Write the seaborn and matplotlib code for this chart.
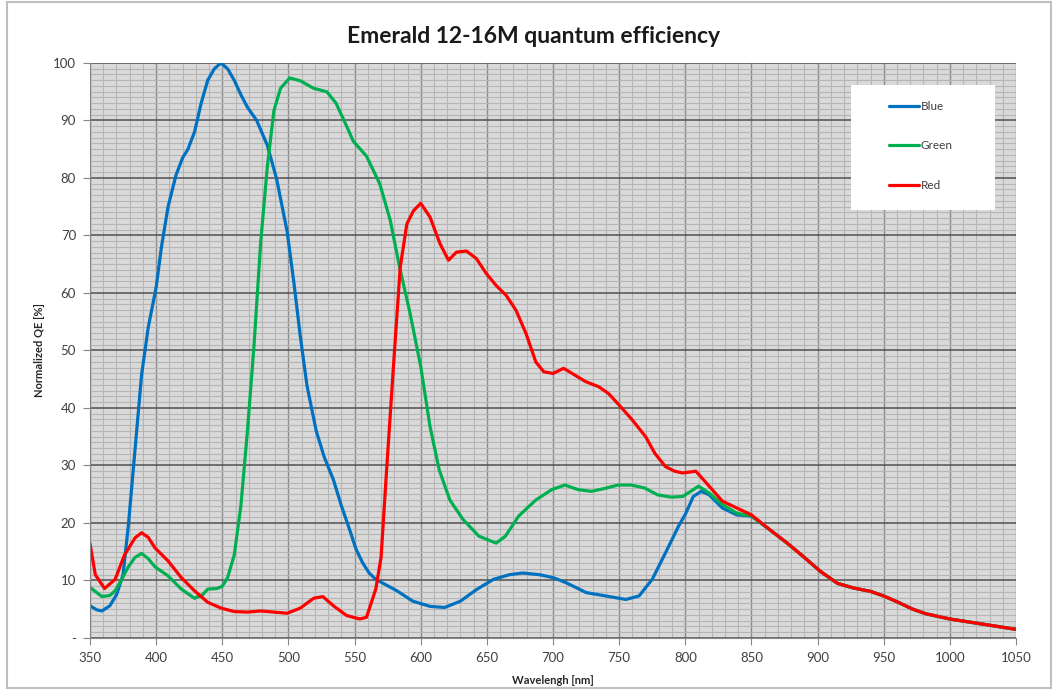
import pandas as pd
import matplotlib
matplotlib.use("Agg")
import matplotlib.pyplot as plt
from matplotlib.patches import Rectangle
from matplotlib.ticker import MultipleLocator, FuncFormatter
import seaborn as sns

# values (wavelength nm, normalized QE %)
blue_wl = [350, 355, 359, 365, 370, 375, 379, 384, 389, 394, 400, 404, 409, 415, 420,
           424, 429, 434, 439, 444, 449, 454, 459, 464, 469, 476, 484, 491, 499, 504,
           509, 514, 521, 527, 534, 540, 546, 551, 556, 561, 566, 574, 582, 594, 607,
           618, 630, 642, 655, 667, 677, 690, 700, 710, 725, 740, 755, 765, 775, 785,
           795, 800, 806, 812, 818, 828, 839, 850, 864, 877, 889, 902, 915, 927, 940,
           950, 960, 972, 982, 1000, 1025, 1050]
blue_qe = [5.6, 4.9, 4.7, 5.6, 7.5, 11, 19.6, 32.7, 45.8, 54, 61, 68, 75, 80.5, 83.5,
           85, 88, 93, 97, 99, 100, 99, 97, 94.5, 92.3, 90, 85.7, 79.9, 70.7, 62,
           52.4, 43.9, 36, 31.5, 27.5, 23, 19, 15.5, 13.1, 11.3, 10.2, 9.2, 8.2, 6.4, 5.5,
           5.3, 6.4, 8.4, 10.2, 11, 11.3, 11, 10.5, 9.6, 7.9, 7.3, 6.7, 7.3, 10.2, 14.8,
           19.5, 21.5, 24.6, 25.5, 24.9, 22.6, 21.4, 21.2, 18.8, 16.5, 14.2, 11.6, 9.5, 8.7, 8.1,
           7.3, 6.3, 5.0, 4.2, 3.3, 2.4, 1.5]

green_wl = [350, 359, 365, 369, 374, 379, 384, 389, 394, 399, 409, 419, 429, 435, 439,
            446, 450, 454, 459, 464, 469, 474, 479, 484, 489, 494, 501, 509, 519, 529,
            536, 544, 549, 559, 569, 577, 584, 592, 600, 607, 614, 622, 632, 644, 657,
            664, 674, 687, 699, 709, 719, 729, 739, 749, 759, 769, 779, 789, 798, 810,
            818, 828, 839, 850, 864, 877, 889, 902, 915, 927, 940, 950, 960, 972, 982,
            1000, 1025, 1050]
green_qe = [8.8, 7.2, 7.4, 8.2, 10.2, 12.4, 14, 14.7, 13.8, 12.4, 10.8, 8.5, 6.9, 7.5, 8.5,
            8.6, 9, 10.5, 14.4, 22.9, 36, 51, 68.8, 81.9, 91.7, 95.6, 97.4, 96.9, 95.6, 95,
            93, 89, 86.4, 83.8, 79, 72.6, 64.5, 56.4, 47.2, 36.8, 29.2, 24, 20.6, 17.7, 16.5,
            17.7, 21.2, 24, 25.8, 26.6, 25.8, 25.5, 26, 26.6, 26.6, 26.1, 24.9, 24.5, 24.6, 26.4,
            25.2, 23.2, 21.7, 21.2, 18.8, 16.5, 14.2, 11.6, 9.5, 8.7, 8.1, 7.3, 6.3, 5.0, 4.2,
            3.3, 2.4, 1.5]

red_wl = [350, 354, 361, 369, 376, 384, 389, 394, 399, 409, 419, 429, 439, 449, 459,
          469, 479, 489, 499, 509, 519, 526, 534, 544, 554, 559, 566, 570, 574, 579.5,
          584.5, 589.5, 594.5, 600, 607, 614.5, 621, 627, 634.5, 642, 649.5, 657, 664.5, 672, 679.5,
          687, 693, 700, 708, 714.5, 724.5, 734.5, 742, 750, 760, 770, 777, 785, 792, 798,
          808, 818, 828, 839, 850, 864, 877, 889, 902, 915, 927, 940, 950, 960, 972,
          982, 1000, 1025, 1050]
red_qe = [16.4, 11, 8.6, 10.2, 14.4, 17.4, 18.3, 17.5, 15.7, 13.4, 10.5, 8.2, 6.2, 5.2, 4.6,
          4.5, 4.7, 4.5, 4.3, 5.2, 6.9, 7.2, 5.6, 3.9, 3.3, 3.6, 8.5, 14, 28.5, 47.7,
          64.5, 72, 74.3, 75.6, 73.2, 68.6, 65.7, 67.1, 67.3, 66, 63.4, 61.3, 59.6, 57, 53,
          48, 46.3, 46, 46.9, 46, 44.6, 43.7, 42.5, 40.5, 37.9, 35, 32.1, 29.8, 29, 28.7,
          29, 26.4, 23.8, 22.6, 21.4, 18.8, 16.5, 14.2, 11.6, 9.5, 8.7, 8.1, 7.3, 6.3, 5.0,
          4.2, 3.3, 2.4, 1.5]

channels = ["Blue", "Green", "Red"]
colors = ["#0070C0", "#00B050", "#FF0000"]

df = pd.concat([
    pd.DataFrame({"Wavelength": blue_wl, "QE": blue_qe, "Channel": "Blue"}),
    pd.DataFrame({"Wavelength": green_wl, "QE": green_qe, "Channel": "Green"}),
    pd.DataFrame({"Wavelength": red_wl, "QE": red_qe, "Channel": "Red"}),
])

sns.set_style("ticks")
plt.rcParams["font.family"] = ["Lato", "DejaVu Sans"]

fig = plt.figure(figsize=(10.54, 6.9), dpi=100)
ax = fig.add_axes([0.0854, 0.0754, 0.8786, 0.8333])
ax.set_facecolor("#D9D9D9")

sns.lineplot(data=df, x="Wavelength", y="QE", hue="Channel", hue_order=channels,
             palette=colors, linewidth=2.3, errorbar=None, ax=ax, legend=True)

ax.set_xlim(350, 1050)
ax.set_ylim(0, 100)
ax.xaxis.set_major_locator(MultipleLocator(50))
ax.xaxis.set_minor_locator(MultipleLocator(10))
ax.yaxis.set_major_locator(MultipleLocator(10))
ax.yaxis.set_minor_locator(MultipleLocator(1))
ax.yaxis.set_major_formatter(FuncFormatter(lambda v, p: "-" if v == 0 else f"{v:.0f}"))

ax.grid(which="minor", color="#B5B5B5", linewidth=0.8)
ax.grid(which="major", axis="x", color="#8C8C8C", linewidth=1.0)
ax.grid(which="major", axis="y", color="#505050", linewidth=1.1)
ax.set_axisbelow(True)

for side in ["top", "right"]:
    ax.spines[side].set_visible(False)
for side in ["left", "bottom"]:
    ax.spines[side].set_color("#868686")
ax.tick_params(which="major", length=5, color="#868686", labelsize=9.5, labelcolor="#404040", pad=5)
ax.tick_params(which="minor", length=0)

ax.set_xlabel("Wavelengh [nm]", fontsize=8, fontweight="bold", labelpad=8)
ax.set_ylabel("Normalized QE [%]", fontsize=8, fontweight="bold", labelpad=6)
fig.suptitle("Emerald 12-16M quantum efficiency", x=0.506, y=0.962, fontsize=16.5, fontweight="bold",
             color="#1a1a1a")

# legend panel
ax.add_patch(Rectangle((0.822, 0.744), 0.1555, 0.217, transform=ax.transAxes,
                       facecolor="white", edgecolor="none", zorder=4))
leg = ax.legend(loc="upper left", bbox_to_anchor=(0.856, 0.944), frameon=False,
                fontsize=8.5, labelspacing=2.4, handlelength=2.6, handletextpad=0.1,
                borderpad=0)
leg.set_zorder(5)
for t in leg.get_texts():
    t.set_color("#404040")
for h in leg.get_lines():
    h.set_linewidth(2.3)

# chart border
fig.patches.append(Rectangle((0.007, 0.003), 0.99, 0.994, transform=fig.transFigure,
                             facecolor="none", edgecolor="#BFBFBF", linewidth=1.5))

fig.savefig("out.png", dpi=100)
